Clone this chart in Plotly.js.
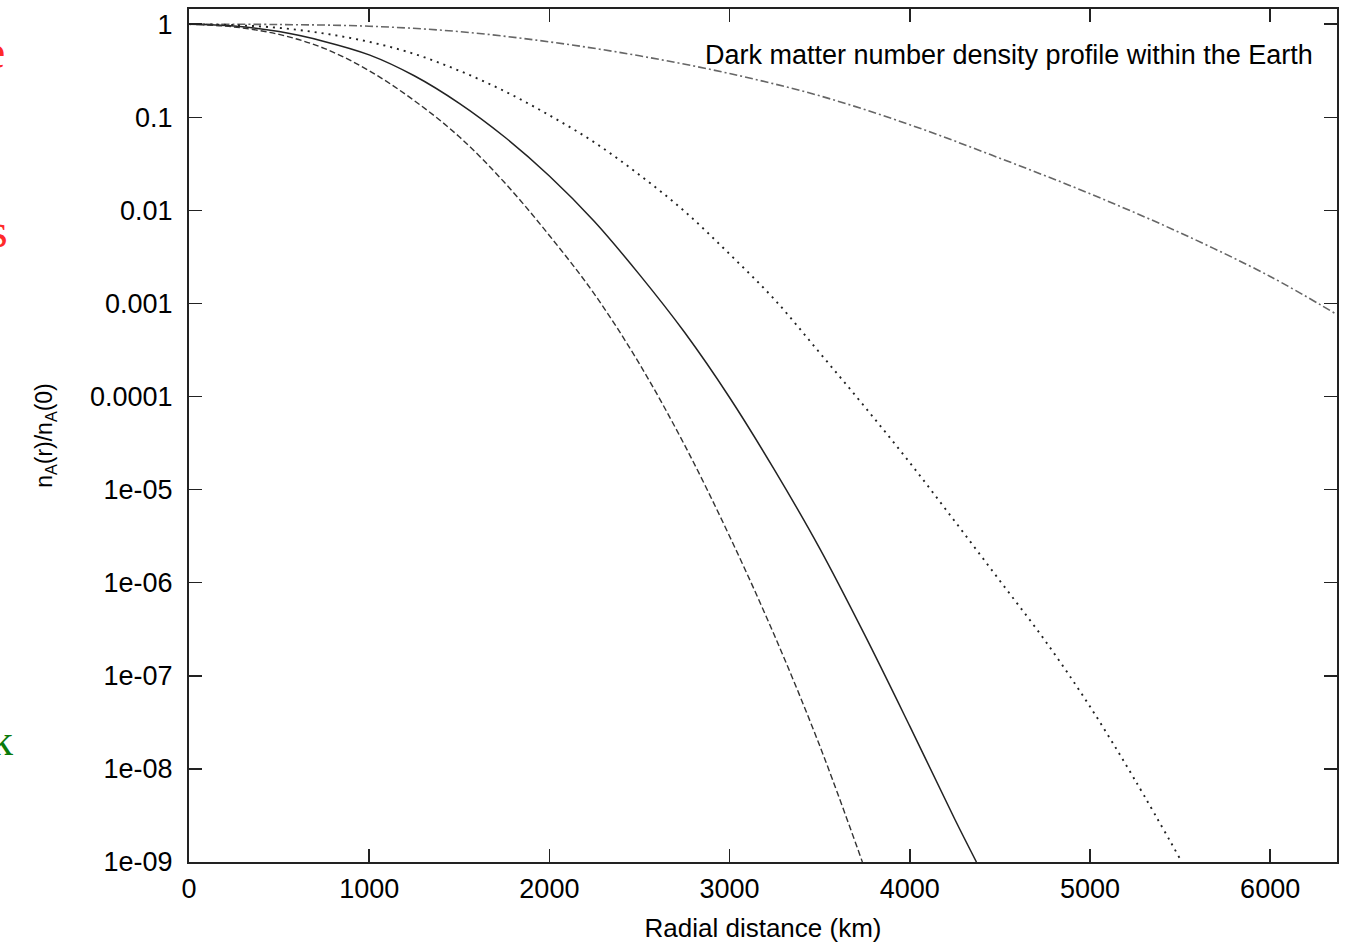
<!DOCTYPE html>
<html>
<head>
<meta charset="utf-8">
<script src="https://cdn.plot.ly/plotly-3.0.1.min.js"></script>
<style>html,body{margin:0;padding:0;background:#fff;} #chart{width:1345px;height:943px;}</style>
</head>
<body>
<div id="chart"></div>
<script>
// Radial distance (km) and n_A(r)/n_A(0) for each of the four profiles
const rDashed = [0, 250, 500, 750, 1000, 1250, 1500, 1750, 2000, 2250, 2500, 2750, 3000, 3250, 3500, 3737];
const nDashed = [1, 0.933, 0.776, 0.550, 0.316, 0.151, 0.0617, 0.0200, 5.37e-3, 1.26e-3, 2.24e-4, 3.02e-5, 3.16e-6, 2.69e-7, 1.78e-8, 1e-9];

const rSolid = [0, 250, 500, 750, 1000, 1250, 1500, 1750, 2000, 2250, 2500, 2750, 3000, 3250, 3500, 3750, 4000, 4250, 4370];
const nSolid = [1, 0.955, 0.832, 0.653, 0.468, 0.279, 0.141, 0.0617, 0.0234, 7.59e-3, 2.04e-3, 4.90e-4, 9.77e-5, 1.62e-5, 2.34e-6, 2.75e-7, 2.88e-8, 2.88e-9, 1e-9];

const rDotted = [0, 250, 500, 750, 1000, 1250, 1500, 1750, 2000, 2250, 2500, 2750, 3000, 3250, 3500, 3750, 4000, 4250, 4500, 4750, 5000, 5250, 5510];
const nDotted = [1, 0.977, 0.912, 0.794, 0.646, 0.479, 0.316, 0.191, 0.105, 0.0537, 0.0240, 9.77e-3, 3.39e-3, 1.10e-3, 2.95e-4, 7.76e-5, 1.95e-5, 4.57e-6, 1.05e-6, 2.40e-7, 4.68e-8, 7.59e-9, 1e-9];

const rDashDot = [0, 500, 1000, 1500, 2000, 2500, 3000, 3500, 4000, 4500, 5000, 5500, 6000, 6371];
const nDashDot = [1, 0.991, 0.951, 0.832, 0.646, 0.457, 0.295, 0.170, 0.0832, 0.0363, 0.0151, 5.75e-3, 1.95e-3, 7.59e-4];

const yTickVals = [1, 0.1, 0.01, 0.001, 0.0001, 1e-5, 1e-6, 1e-7, 1e-8, 1e-9];
const yTickText = ["1", "0.1", "0.01", "0.001", "0.0001", "1e-05", "1e-06", "1e-07", "1e-08", "1e-09"];
const xTickVals = [0, 1000, 2000, 3000, 4000, 5000, 6000];

const font = "Liberation Sans, Arial, sans-serif";

function tr(x, y, dash, color, width) {
  return {x: x, y: y, type: 'scatter', mode: 'lines',
    line: {color: color, width: width, dash: dash, shape: 'spline', smoothing: 1},
    hoverinfo: 'skip', showlegend: false};
}

const data = [
  tr(rDashDot, nDashDot, '8px,3px,2px,3px', '#666', 1.6),
  tr(rDotted, nDotted, '2px,5px', '#222', 1.9),
  tr(rSolid, nSolid, 'solid', '#222', 1.5),
  tr(rDashed, nDashed, '6px,3px', '#333', 1.4)
];

const layout = {
  width: 1345, height: 943,
  margin: {l: 189, r: 8, t: 9, b: 81},
  paper_bgcolor: '#fff', plot_bgcolor: '#fff',
  showlegend: false,
  font: {family: font, color: '#000'},
  xaxis: {
    range: [0, 6371], tickvals: xTickVals,
    ticks: 'inside', ticklen: 13, tickwidth: 1.5, tickcolor: '#222',
    showline: true, linecolor: '#222', linewidth: 2, mirror: 'ticks',
    showgrid: false, zeroline: false,
    tickfont: {family: font, size: 27, color: '#000'},
    ticklabelstandoff: 2,
    title: {text: 'Radial distance (km)', font: {family: font, size: 26, color: '#000'}, standoff: 16}
  },
  yaxis: {
    type: 'log', range: [-9, 0.163],
    tickvals: yTickVals, ticktext: yTickText,
    ticks: 'inside', ticklen: 13, tickwidth: 1.5, tickcolor: '#222',
    showline: true, linecolor: '#222', linewidth: 2, mirror: 'ticks',
    showgrid: false, zeroline: false,
    tickfont: {family: font, size: 27, color: '#000'},
    ticklabelstandoff: 9,
    title: {text: 'n<sub>A</sub>(r)/n<sub>A</sub>(0)', font: {family: font, size: 23, color: '#000'}, standoff: 31}
  },
  annotations: [
    {xref: 'paper', yref: 'paper', x: 0.981, y: 0.946, xanchor: 'right', yanchor: 'middle',
     text: 'Dark matter number density profile within the Earth', showarrow: false,
     font: {family: font, size: 27, color: '#000'}},
    {xref: 'paper', yref: 'paper', x: (7 - 189) / 1148, y: (862 - 52) / 853, xanchor: 'right', yanchor: 'middle',
     text: 'e', showarrow: false, font: {family: 'Liberation Serif, serif', size: 48, color: '#ff2a2a'}},
    {xref: 'paper', yref: 'paper', x: (10 - 189) / 1148, y: (862 - 230) / 853, xanchor: 'right', yanchor: 'middle',
     text: 's', showarrow: false, font: {family: 'Liberation Serif, serif', size: 48, color: '#ff2a2a'}},
    {xref: 'paper', yref: 'paper', x: (15 - 189) / 1148, y: (862 - 740) / 853, xanchor: 'right', yanchor: 'middle',
     text: 'k', showarrow: false, font: {family: 'Liberation Serif, serif', size: 44, color: '#0a7a0a'}}
  ]
};

Plotly.newPlot('chart', data, layout, {staticPlot: true, displayModeBar: false});
</script>
</body>
</html>
